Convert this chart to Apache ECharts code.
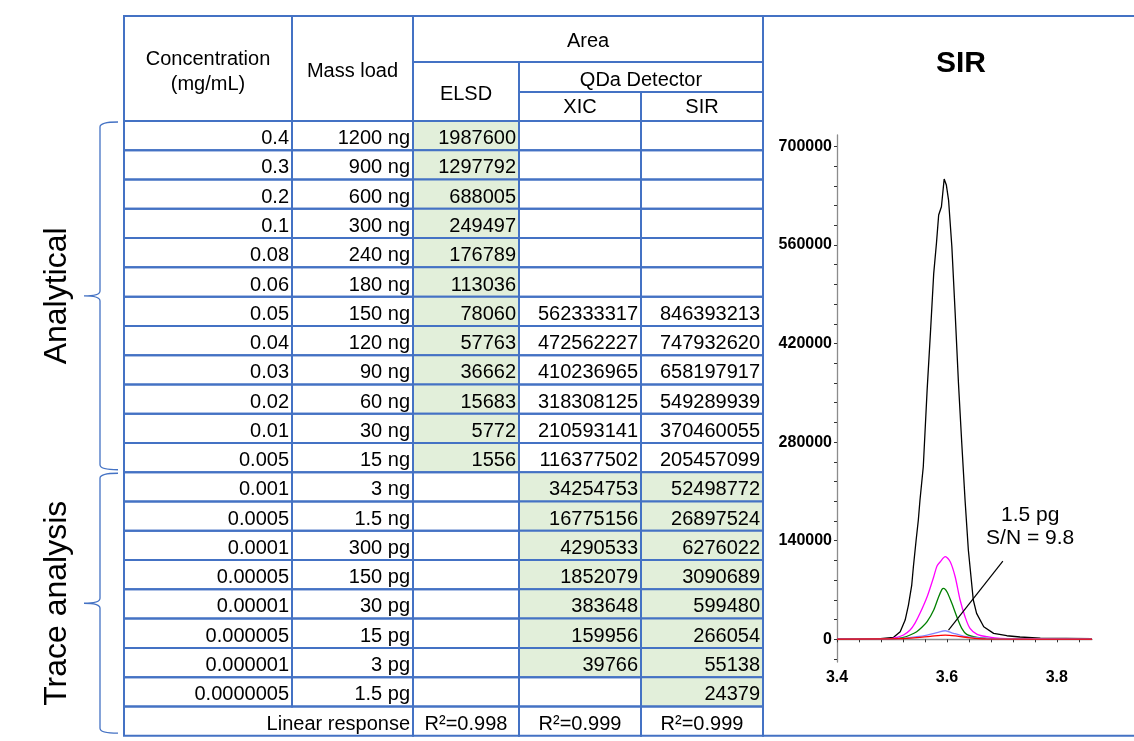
<!DOCTYPE html>
<html>
<head>
<meta charset="utf-8">
<title>Linearity of ELSD and QDa detection</title>
<script src="https://cdn.jsdelivr.net/npm/echarts@6/dist/echarts.min.js"></script>
<style>
  html, body { margin: 0; padding: 0; background: #ffffff; }
  #main { width: 1134px; height: 741px; }
</style>
</head>
<body>
<div id="main"></div>
<script>
// ---- Calibration table ----
const concentration = ['0.4', '0.3', '0.2', '0.1', '0.08', '0.06', '0.05', '0.04', '0.03', '0.02',
  '0.01', '0.005', '0.001', '0.0005', '0.0001', '0.00005', '0.00001', '0.000005', '0.000001', '0.0000005'];
const massLoad = ['1200 ng', '900 ng', '600 ng', '300 ng', '240 ng', '180 ng', '150 ng', '120 ng', '90 ng', '60 ng',
  '30 ng', '15 ng', '3 ng', '1.5 ng', '300 pg', '150 pg', '30 pg', '15 pg', '3 pg', '1.5 pg'];
const elsdArea = [1987600, 1297792, 688005, 249497, 176789, 113036, 78060, 57763, 36662, 15683,
  5772, 1556, null, null, null, null, null, null, null, null];
const xicArea = [null, null, null, null, null, null, 562333317, 472562227, 410236965, 318308125,
  210593141, 116377502, 34254753, 16775156, 4290533, 1852079, 383648, 159956, 39766, null];
const sirArea = [null, null, null, null, null, null, 846393213, 747932620, 658197917, 549289939,
  370460055, 205457099, 52498772, 26897524, 6276022, 3090689, 599480, 266054, 55138, 24379];
const linearResponse = ['R\u00B2=0.998', 'R\u00B2=0.999', 'R\u00B2=0.999'];
const groups = [
  { label: 'Analytical', first: 0, last: 11, fitted: 'ELSD' },
  { label: 'Trace analysis', first: 12, last: 20, fitted: 'QDa' }
];

// ---- SIR chromatogram traces: [retention time (min), intensity] ----
const traceBlack = [[3.400, 850], [3.479, 1100], [3.503, 2800], [3.515, 10800], [3.524, 27400], [3.530, 48700],
  [3.536, 77100], [3.539, 103100], [3.544, 141000], [3.548, 169400], [3.551, 197800], [3.557, 245100],
  [3.564, 354000], [3.570, 435000], [3.576, 519700], [3.581, 562700], [3.585, 602500], [3.590, 614300],
  [3.595, 653600], [3.599, 645000], [3.603, 623700], [3.609, 557500], [3.615, 463300], [3.621, 364000],
  [3.627, 278700], [3.633, 197800], [3.639, 126800], [3.648, 55800], [3.654, 36900], [3.667, 17900],
  [3.685, 8500], [3.709, 5100], [3.733, 3300], [3.770, 1800], [3.864, 850]];
const traceMagenta = [[3.400, 400], [3.497, 850], [3.509, 2800], [3.521, 6100], [3.533, 13200], [3.542, 23100],
  [3.551, 36900], [3.564, 60500], [3.576, 88900], [3.582, 104100], [3.588, 110200], [3.597, 117300],
  [3.606, 110200], [3.615, 88900], [3.624, 55800], [3.633, 32100], [3.642, 15600], [3.655, 7100],
  [3.673, 3700], [3.697, 1400], [3.864, 600]];
const traceGreen = [[3.400, 400], [3.506, 850], [3.521, 2800], [3.533, 6100], [3.545, 10800], [3.555, 17500],
  [3.564, 25000], [3.576, 41600], [3.585, 60500], [3.591, 71000], [3.594, 72400], [3.600, 67600],
  [3.609, 51100], [3.618, 32100], [3.627, 15600], [3.636, 7100], [3.655, 2800], [3.679, 1100], [3.864, 600]];
const traceBlue = [[3.400, 600], [3.515, 1100], [3.545, 3700], [3.564, 6100], [3.582, 9400], [3.597, 12200],
  [3.612, 8500], [3.630, 4700], [3.648, 2800], [3.679, 1100], [3.864, 700]];
const traceRed = [[3.400, 300], [3.515, 850], [3.545, 2300], [3.570, 4300], [3.597, 6100], [3.621, 4300],
  [3.642, 2100], [3.670, 700], [3.864, 300]];

const xTickLabels = [3.4, 3.6, 3.8];
const yTickLabels = [0, 140000, 280000, 420000, 560000, 700000];
const annotationText = '1.5 pg\nS/N = 9.8';
const annotationAt = [3.7515, 160200];
const pointerFrom = [3.7018, 111200];
const pointerTo = [3.6029, 13200];

// ---- layout and styles ----
const FONT = '"Liberation Sans", Arial, Helvetica, sans-serif';
const BORDER = '#4472C4';
const FILL = '#E2EFDA';
const colEdges = [124, 292, 413, 519, 641, 763, 1140];
const headerEdges = [16, 62, 92, 121];
const tableBottom = 735.7;
const rowCount = concentration.length + 1;
const rowH = (tableBottom - headerEdges[3]) / rowCount;
const rowTop = i => headerEdges[3] + i * rowH;
const brace = { end: 118, spine: 100, tip: 84, label: 57, r: 5 };

// ---- build table cells ----
const cells = [];
function addCell(c0, c1, y0, y1, text, align, dy, fill, rich) {
  cells.push({ x0: colEdges[c0], x1: colEdges[c1], y0, y1, text, align, dy, fill, rich });
}
addCell(0, 1, headerEdges[0], headerEdges[3], 'Concentration\n(mg/mL)', 'center', 3.5);
addCell(1, 2, headerEdges[0], headerEdges[3], 'Mass load', 'center', 2.5);
addCell(2, 5, headerEdges[0], headerEdges[1], 'Area', 'center', 2.7);
addCell(2, 3, headerEdges[1], headerEdges[3], 'ELSD', 'center', 2.5);
addCell(3, 5, headerEdges[1], headerEdges[2], 'QDa Detector', 'center', 3);
addCell(3, 4, headerEdges[2], headerEdges[3], 'XIC', 'center', 1);
addCell(4, 5, headerEdges[2], headerEdges[3], 'SIR', 'center', 1);
addCell(5, 6, headerEdges[0], tableBottom, '', 'center', 0);

concentration.forEach((conc, i) => {
  const y0 = rowTop(i), y1 = rowTop(i + 1);
  const trace = i >= groups[1].first;
  addCell(0, 1, y0, y1, conc, 'right', 3);
  addCell(1, 2, y0, y1, massLoad[i], 'right', 3);
  const e = elsdArea[i], x = xicArea[i], s = sirArea[i];
  addCell(2, 3, y0, y1, e == null ? '' : String(e), 'right', 3, e != null && !trace ? FILL : null);
  addCell(3, 4, y0, y1, x == null ? '' : String(x), 'right', 3, x != null && trace ? FILL : null);
  addCell(4, 5, y0, y1, s == null ? '' : String(s), 'right', 3, s != null && trace ? FILL : null);
});
{
  const i = concentration.length;
  const y0 = rowTop(i), y1 = rowTop(i + 1);
  addCell(0, 2, y0, y1, 'Linear response', 'right', 3);
  linearResponse.forEach((txt, k) => addCell(2 + k, 3 + k, y0, y1, txt, 'center', 3));
}

function renderCell(params, api) {
  const c = cells[params.dataIndex];
  const p0 = api.coord([c.x0, c.y0]);
  const p1 = api.coord([c.x1, c.y1]);
  const children = [{
    type: 'rect',
    shape: { x: p0[0], y: p0[1], width: p1[0] - p0[0], height: p1[1] - p0[1] },
    style: { fill: c.fill || 'none', stroke: BORDER, lineWidth: 2 }
  }];
  if (c.text) {
    const tx = c.align === 'right' ? p1[0] - 3 : (p0[0] + p1[0]) / 2;
    children.push({
      type: 'text',
      x: tx,
      y: (p0[1] + p1[1]) / 2 + c.dy,
      z2: 10,
      style: {
        text: c.text, fill: '#000', fontSize: 20, fontFamily: FONT,
        align: c.align, verticalAlign: 'middle', lineHeight: 25
      }
    });
  }
  return { type: 'group', children };
}

function renderBrace(params, api) {
  const g = groups[params.dataIndex];
  const top = api.coord([brace.end, rowTop(g.first) + 1])[1];
  const bot = api.coord([brace.end, rowTop(g.last + 1) - 2.5])[1];
  const mid = (top + bot) / 2;
  const xe = api.coord([brace.end, 0])[0];
  const xs = api.coord([brace.spine, 0])[0];
  const xt = api.coord([brace.tip, 0])[0];
  const xl = api.coord([brace.label, 0])[0];
  const r = brace.r;
  const d = `M${xe} ${top} Q${xs} ${top} ${xs} ${top + r} L${xs} ${mid - r} Q${xs} ${mid} ${xt} ${mid} ` +
    `Q${xs} ${mid} ${xs} ${mid + r} L${xs} ${bot - r} Q${xs} ${bot} ${xe} ${bot}`;
  return {
    type: 'group',
    children: [
      { type: 'path', shape: { pathData: d }, style: { fill: 'none', stroke: BORDER, lineWidth: 1.3 } },
      {
        type: 'text', x: xl, y: mid, rotation: Math.PI / 2,
        style: { text: g.label, fill: '#000', fontSize: 32, fontFamily: FONT, align: 'center', verticalAlign: 'middle' }
      }
    ]
  };
}

// ---- axis tick positions for the chromatogram ----
const xTicks = [];
for (let k = 0; k <= 11; k++) xTicks.push(+(xTickLabels[0] + 0.04 * k).toFixed(2));
const yTicks = [];
for (let k = -1; k <= 25; k++) yTicks.push(k * 28000);

const lineSeries = (data, color, smooth) => ({
  type: 'line', xAxisIndex: 1, yAxisIndex: 1, data, showSymbol: false, smooth,
  lineStyle: { color, width: 1.3 }, itemStyle: { color }, z: 3
});

const blueSeries = lineSeries(traceBlue, '#8585ff', 0.3);
blueSeries.markLine = {
  silent: true, symbol: ['none', 'none'], label: { show: false },
  lineStyle: { color: '#000', width: 1.2, type: 'solid' },
  data: [[{ coord: pointerFrom }, { coord: pointerTo }]]
};
blueSeries.markPoint = {
  silent: true, symbol: 'circle', symbolSize: 0,
  label: {
    show: true, position: 'inside', formatter: annotationText,
    fontSize: 21, lineHeight: 23, color: '#000', fontFamily: FONT
  },
  data: [{ coord: annotationAt }]
};

const chart = echarts.init(document.getElementById('main'), null, { renderer: 'canvas' });
chart.setOption({
  animation: false,
  backgroundColor: '#ffffff',
  textStyle: { fontFamily: FONT },
  graphic: [{
    type: 'text', x: 961, y: 64,
    style: { text: 'SIR', fontSize: 30, fontWeight: 'bold', fontFamily: FONT, fill: '#000', align: 'center', verticalAlign: 'middle' }
  }],
  grid: [
    { left: 0, top: 0, right: 0, bottom: 0 },
    { left: 837, top: 135, width: 255, height: 527 }
  ],
  xAxis: [
    { gridIndex: 0, type: 'value', min: 0, max: 1134, show: false },
    {
      gridIndex: 1, type: 'value', min: 3.4, max: 3.864,
      axisLine: { show: true, lineStyle: { color: '#8c8c8c', width: 1.3 } },
      axisTick: { show: true, customValues: xTicks, length: 3, lineStyle: { color: '#333' } },
      axisLabel: {
        customValues: xTickLabels, formatter: v => v.toFixed(1),
        fontSize: 16, fontWeight: 'bold', color: '#000', margin: 8, fontFamily: FONT
      },
      splitLine: { show: false }
    }
  ],
  yAxis: [
    { gridIndex: 0, type: 'value', min: 0, max: 741, inverse: true, show: false },
    {
      gridIndex: 1, type: 'value', min: -32200, max: 716100,
      axisLine: { show: true, lineStyle: { color: '#8c8c8c', width: 1.3 } },
      axisTick: { show: true, customValues: yTicks, length: 3, lineStyle: { color: '#333' } },
      axisLabel: {
        customValues: yTickLabels, formatter: v => String(v),
        fontSize: 16, fontWeight: 'bold', color: '#000', margin: 5, fontFamily: FONT
      },
      splitLine: { show: false }
    }
  ],
  series: [
    {
      type: 'custom', xAxisIndex: 0, yAxisIndex: 0, z: 1, silent: true,
      renderItem: renderCell,
      data: cells.map(c => [c.x0, c.y0, c.x1, c.y1])
    },
    {
      type: 'custom', xAxisIndex: 0, yAxisIndex: 0, z: 1, silent: true,
      renderItem: renderBrace,
      data: groups.map(g => [g.first, g.last])
    },
    lineSeries(traceBlack, '#000000', false),
    lineSeries(traceMagenta, '#ff00ff', 0.3),
    lineSeries(traceGreen, '#008000', 0.3),
    blueSeries,
    lineSeries(traceRed, '#ff0000', 0.3)
  ]
});
</script>
</body>
</html>
